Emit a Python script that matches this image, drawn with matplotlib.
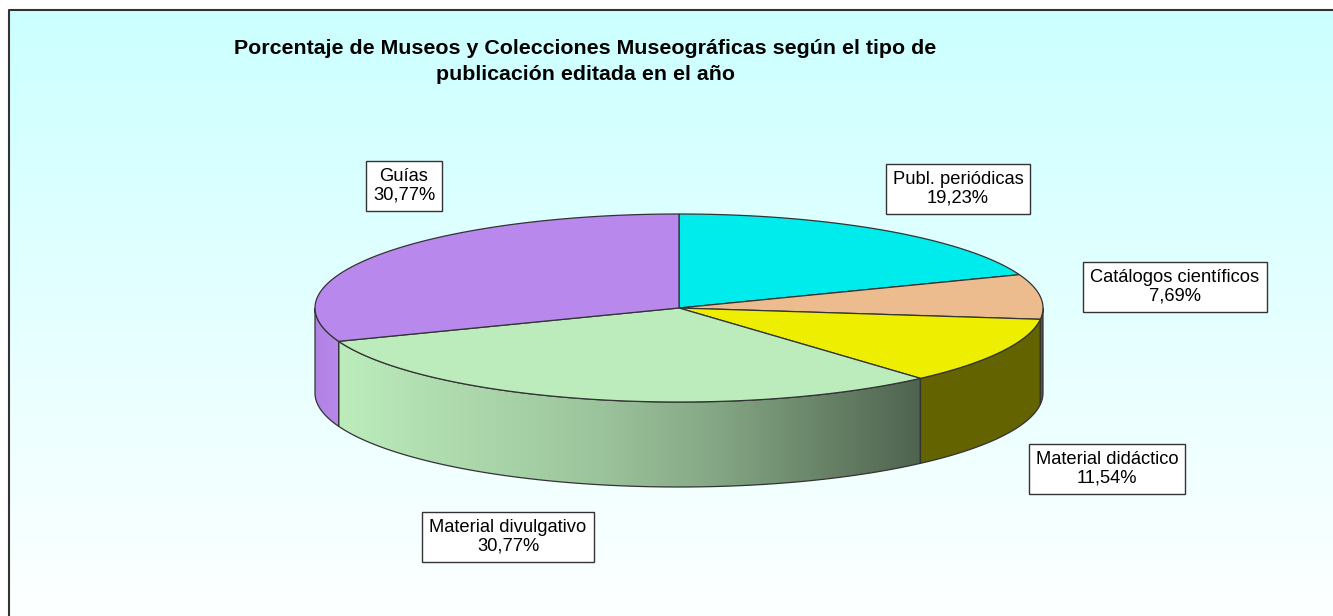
import matplotlib.pyplot as plt
import numpy as np
from matplotlib.patches import Polygon

plt.rcParams['font.family'] = ['Liberation Sans', 'DejaVu Sans']

# datos
categories = ['Publ. periódicas', 'Catálogos científicos', 'Material didáctico',
              'Material divulgativo', 'Guías']
percentages = [19.23, 7.69, 11.54, 30.77, 30.77]
colors = ['#00ECEC', '#ECBC8E', '#EEEE00', '#BCECBC', '#B888EC']
title_lines = ['Porcentaje de Museos y Colecciones Museográficas según el tipo de',
               'publicación editada en el año']

# posiciones de las etiquetas (px)
label_pos = [(958, 189), (1175, 287), (1107, 469), (508, 537), (404, 186)]

fig = plt.figure(figsize=(13.33, 6.16), dpi=100)
ax = fig.add_axes([0, 0, 1, 1])

# fondo degradado
grad = np.linspace(0, 1, 256)[:, None, None]
c_top = np.array([204, 255, 255]) / 255
c_bot = np.array([253, 255, 255]) / 255
bg = c_top + (c_bot - c_top) * grad
ax.imshow(bg, extent=[9, 1333, 616, 10], aspect='auto', zorder=0)
ax.plot([9, 9, 1333], [616, 10, 10], color='#333333', lw=1.5, zorder=1)

# geometría de la tarta 3D
cx, cy, rx, ry, depth = 679, 308, 364, 94, 85
fracs = np.array(percentages) / sum(percentages)
bounds = 90 - 360 * np.concatenate([[0], np.cumsum(fracs)])


def ell(t):
    t = np.radians(t)
    return cx + rx * np.cos(t), cy - ry * np.sin(t)


# sombreado de los laterales
xs = np.linspace(cx - rx, cx + rx, 500)
shade = np.interp((xs - cx) / rx,
                  [-1, -0.934, -0.217, 0.113, 0.662, 1],
                  [0.96, 1.0, 0.83, 0.70, 0.42, 0.42])

for i, col in enumerate(colors):
    a0, a1 = bounds[i], bounds[i + 1]
    hi, lo = min(a0, 0), max(a1, -180)
    if hi <= lo:
        continue
    t = np.linspace(hi, lo, 80)
    x, y = ell(t)
    pts = np.column_stack([np.concatenate([x, x[::-1]]),
                           np.concatenate([y, y[::-1] + depth])])
    poly = Polygon(pts, closed=True, facecolor='none', edgecolor='#333333',
                   lw=0.9, zorder=3)
    ax.add_patch(poly)
    base = np.array(plt.matplotlib.colors.to_rgb(col))
    img = (base[None, :] * shade[:, None])[None, :, :]
    im = ax.imshow(img, extent=[cx - rx, cx + rx, cy + ry + depth, cy - ry],
                   aspect='auto', zorder=2)
    im.set_clip_path(poly)

# caras superiores
for i, col in enumerate(colors):
    t = np.linspace(bounds[i], bounds[i + 1], 120)
    x, y = ell(t)
    pts = np.column_stack([np.concatenate([[cx], x]), np.concatenate([[cy], y])])
    ax.add_patch(Polygon(pts, closed=True, facecolor=col, edgecolor='#333333',
                         lw=0.9, zorder=4))

# etiquetas
for cat, pct, (lx, ly) in zip(categories, percentages, label_pos):
    txt = cat + '\n' + f'{pct:.2f}%'.replace('.', ',')
    ax.text(lx, ly, txt, ha='center', va='center', fontsize=13.2,
            linespacing=1.12, zorder=6,
            bbox=dict(boxstyle='square,pad=0.38', fc='white', ec='#333333', lw=1))

# título
ax.text(585, 49, title_lines[0], ha='center', va='center', fontsize=15.4,
        fontweight='bold', zorder=6)
ax.text(585, 75, title_lines[1], ha='center', va='center', fontsize=15.4,
        fontweight='bold', zorder=6)

ax.set_xlim(0, 1333)
ax.set_ylim(616, 0)
ax.axis('off')

plt.savefig('out.png', dpi=100)
